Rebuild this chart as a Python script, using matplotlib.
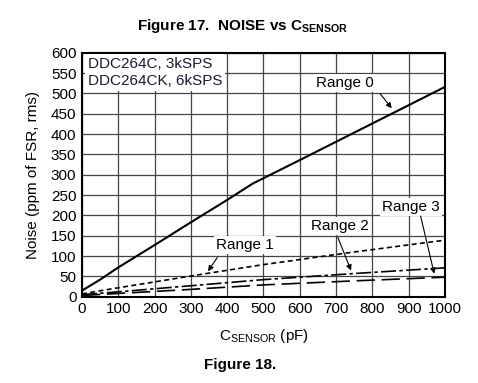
import matplotlib
matplotlib.use("Agg")
import matplotlib.pyplot as plt

plt.rcParams['font.family'] = ['Liberation Sans', 'DejaVu Sans']
plt.rcParams['mathtext.fontset'] = 'custom'
plt.rcParams['mathtext.rm'] = 'Liberation Sans'
plt.rcParams['mathtext.bf'] = 'Liberation Sans:bold'

# values (C_SENSOR in pF, noise in ppm of FSR rms)
range0_x = [0, 50, 100, 200, 300, 400, 470, 600, 800, 1000]
range0_y = [15, 42, 72, 127, 183, 238, 278, 336, 426, 516]
range1_x = [0, 100, 343, 500, 750, 1000]
range1_y = [7, 22, 57, 79, 110, 139]
range2_x = [0, 100, 300, 500, 750, 1000]
range2_y = [5, 12, 27, 42, 57, 71]
range3_x = [0, 100, 300, 500, 750, 1000]
range3_y = [3, 8, 18, 29, 39, 48]

labels = ["Range 0", "Range 1", "Range 2", "Range 3"]
label_pos = [(724, 525), (449, 127), (711, 173), (906, 220)]
arrow_start = [(816, 505), (377, 102), (702, 152), (931, 205)]
arrow_tip = [(858, 458), (343, 57), (744, 58), (972, 50)]

fig = plt.figure(figsize=(4.78, 3.83), dpi=100)
ax = fig.add_axes([0.1715, 0.2253, 0.7595, 0.6371])

ax.plot(range0_x, range0_y, color='k', lw=1.5)
ax.plot(range1_x, range1_y, color='k', lw=1.2, dashes=(3, 2))
ax.plot(range2_x, range2_y, color='k', lw=1.2, dashes=(9, 2, 2, 2))
ax.plot(range3_x, range3_y, color='k', lw=1.2, dashes=(11, 4))

ax.set_xlim(0, 1000)
ax.set_ylim(0, 600)
ax.set_xticks(range(0, 1001, 100))
ax.set_yticks(range(0, 601, 50))
ax.grid(True, color='#444444', lw=0.9)
ax.set_axisbelow(True)
ax.tick_params(length=0, labelsize=11, pad=4)
for s in ax.spines.values():
    s.set_linewidth(1.5)

for i, lab in enumerate(labels):
    ax.text(label_pos[i][0], label_pos[i][1], lab, fontsize=11, ha='center', va='center',
            bbox=dict(facecolor='white', edgecolor='none', pad=1.5), zorder=5)
    ax.annotate("", xy=arrow_tip[i], xytext=arrow_start[i],
                arrowprops=dict(arrowstyle='-|>', color='k', lw=0.8, mutation_scale=8), zorder=6)

ax.text(16, 589, "DDC264C, 3kSPS\nDDC264CK, 6kSPS", fontsize=11, ha='left', va='top',
        linespacing=1.25, color='#1a1a2e',
        bbox=dict(facecolor='white', edgecolor='none', pad=2), zorder=5)

ax.set_ylabel("Noise (ppm of FSR, rms)", fontsize=11, labelpad=8)
ax.set_xlabel(r"C$_{\rm SENSOR}$ (pF)", fontsize=11, labelpad=8)

fig.text(0.508, 0.932, r"Figure 17.  NOISE vs C$_{\mathbf{SENSOR}}$", fontsize=11, fontweight='bold',
         ha='center', va='center')
fig.text(0.502, 0.047, "Figure 18.", fontsize=11, fontweight='bold', ha='center', va='center')

fig.savefig("out.png", dpi=100)
